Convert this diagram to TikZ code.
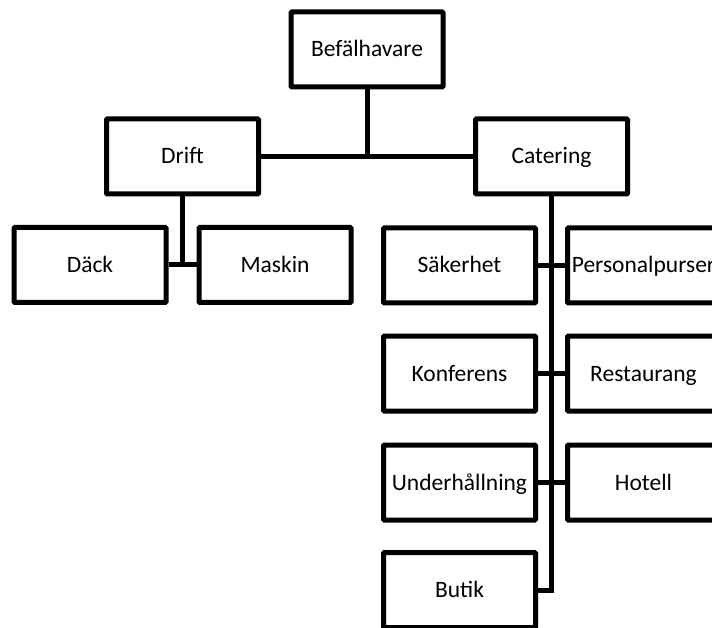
\documentclass[tikz,border=0pt]{standalone}
\usepackage{fontspec}
\setmainfont{Carlito}
\begin{document}
\begin{tikzpicture}[x=1pt,y=-1pt,
  unit/.style={draw=black, line width=5pt, fill=white, minimum width=152pt,
    minimum height=75pt, inner sep=0pt, text height=20pt, text depth=5pt,
    font=\fontsize{23.5}{28}\selectfont, rounded corners=1pt},
  link/.style={draw=black, line width=5pt}]
\useasboundingbox (0,0) rectangle (712,628);
\clip (0,0) rectangle (712,628);

% top level and the two departments
\node[unit] (bef) at (367,49.5) {Befälhavare};
\node[unit] (drift) at (182.5,156.5) {Drift};
\node[unit] (cat) at (551.5,156.5) {Catering};

% Drift's sections
\node[unit] (dack) at (90,265) {Däck};
\node[unit] (mask) at (275,265) {Maskin};

% Catering's sections, two columns either side of the trunk
\node[unit] (sak) at (459.5,265.5) {Säkerhet};
\node[unit] (pers) at (643.5,265.5) {Personalpurser};
\node[unit] (konf) at (459.5,373.5) {Konferens};
\node[unit] (rest) at (643.5,373.5) {Restaurang};
\node[unit] (und) at (459.5,482.5) {Underhållning};
\node[unit] (hot) at (643.5,482.5) {Hotell};
\node[unit] (but) at (459.5,590) {Butik};

% connectors
\coordinate (mid) at (bef.south |- drift.east);
\draw[link] (drift.east) -- (cat.west);
\draw[link] (bef.south) -- (mid);
\draw[link] (drift.south) -- (drift.south |- dack.east);
\draw[link] (dack.east) -- (mask.west);
\draw[link] (cat.south) -- (cat.south |- but.east) -- (but.east);
\draw[link] (sak.east) -- (pers.west);
\draw[link] (konf.east) -- (rest.west);
\draw[link] (und.east) -- (hot.west);
\end{tikzpicture}
\end{document}
